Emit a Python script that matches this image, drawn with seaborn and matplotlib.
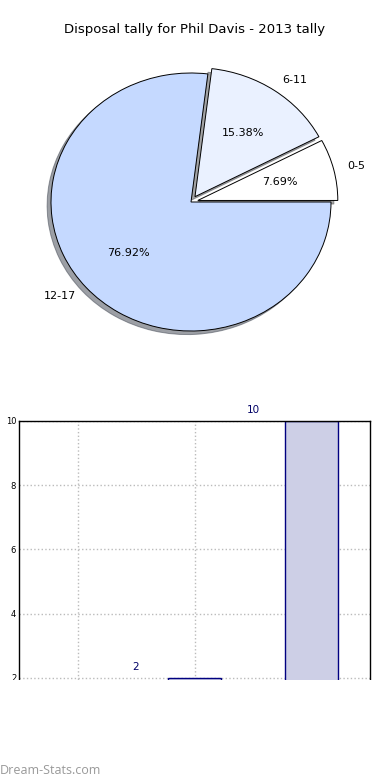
import matplotlib
matplotlib.use("Agg")
import matplotlib.pyplot as plt
from matplotlib.patches import Rectangle
import seaborn as sns
import pandas as pd

categories = ["0-5", "6-11", "12-17"]
counts = [1, 2, 10]
pie_colors = ["#ffffff", "#eaf1ff", "#c5d9ff"]
title = "Disposal tally for Phil Davis - 2013 tally"
y_ticks = [0, 2, 4, 6, 8, 10]
y_label = "Disposal Tally"
watermark = "Dream-Stats.com"

sns.set_style("white")
plt.rcParams["font.family"] = ["DejaVu Sans"]
plt.rcParams["text.color"] = "black"
plt.rcParams["axes.labelcolor"] = "black"
plt.rcParams["xtick.color"] = "black"
plt.rcParams["ytick.color"] = "black"

W, H = 390, 780
fig = plt.figure(figsize=(W / 100, H / 100), dpi=100)

# ---- pie ----
cx, cy, rx, ry = 191, 202, 140, 129
axp = fig.add_axes([(cx - 1.25 * rx) / W, 1 - (cy + 1.25 * ry) / H, 2.5 * rx / W, 2.5 * ry / H])
wedges, texts, autotexts = axp.pie(
    counts, labels=categories, colors=pie_colors, explode=[0.05, 0.05, 0],
    autopct="%.2f%%", shadow=True, startangle=0,
    wedgeprops=dict(edgecolor="black", linewidth=0.7),
    textprops=dict(fontsize=8, color="black"),
)
axp.set_aspect("auto")
axp.set_xlim(-1.25, 1.25)
axp.set_ylim(-1.25, 1.25)
axp.axis("off")
fig.text(0.5, 1 - 30 / H, title, ha="center", va="center", fontsize=9.5, color="black")

# ---- bars ----
axb = fig.add_axes([19 / W, 1 - 742 / H, 351 / W, 321 / H])
df = pd.DataFrame({"cat": categories, "val": counts})
sns.barplot(data=df, x="cat", y="val", order=categories, width=0.45,
            color="#cdcfe6", edgecolor="#000080", linewidth=1.0, saturation=1, ax=axb)
axb.set_xlim(-0.5, len(categories) - 0.5)
axb.set_ylim(0, 10)
axb.set_yticks(y_ticks)
axb.tick_params(axis="y", labelsize=6, length=3, direction="in", pad=2, colors="black")
axb.set_xticklabels([])
axb.tick_params(axis="x", length=0)
axb.set_xlabel("")
axb.set_ylabel(y_label, fontsize=6, color="black")
axb.yaxis.set_label_coords(-0.055, 0.5)
axb.grid(True, color="#bbbbbb", linestyle=":", linewidth=1)
axb.set_axisbelow(True)
for s in axb.spines.values():
    s.set_visible(True)
    s.set_color("black")
    s.set_linewidth(1)
for i, v in enumerate(counts):
    axb.text(i - 0.5, v + 0.18, str(v), ha="center", va="bottom", fontsize=7.5, color="#000066")

# cut-off region with watermark
fig.patches.append(Rectangle((0, 0), 1, 100 / H, transform=fig.transFigure,
                             facecolor="white", edgecolor="none", zorder=10))
fig.text(0, 1 - 770 / H, watermark, ha="left", va="center", fontsize=9,
         color="#999999", family=["Open Sans", "DejaVu Sans"], zorder=11)

fig.savefig("out.png", dpi=100)
